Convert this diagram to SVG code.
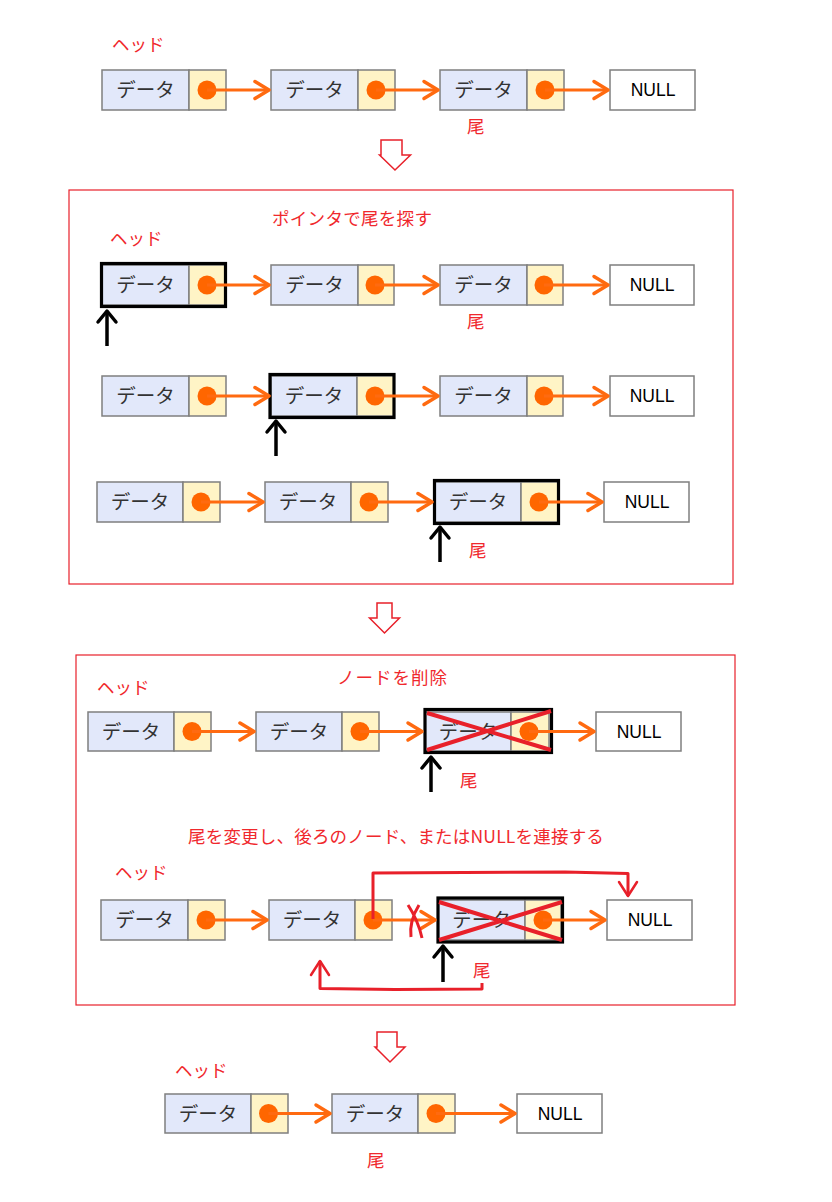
<svg xmlns="http://www.w3.org/2000/svg" width="832" height="1202" viewBox="0 0 832 1202">
<style>
.data{fill:#E2E8FA;stroke:#7F7F7F;stroke-width:1.5}
.ptr{fill:#FFF4C6;stroke:#7F7F7F;stroke-width:1.5}
.nul{fill:#FFFFFF;stroke:#7F7F7F;stroke-width:1.5}
.dot{fill:#FF6600}
.dtxt{font-family:"Noto Sans CJK JP","Noto Sans",sans-serif;font-size:19.5px;fill:#333333;text-anchor:middle}
.ntxt{font-family:"Liberation Sans",Arial,sans-serif;font-size:17.5px;fill:#000000;text-anchor:middle}
.rtxt{font-family:"Noto Sans CJK JP","Noto Sans",sans-serif;font-size:17.5px;fill:#F0282D}
.hl{fill:none;stroke:#000000;stroke-width:3.2}
.cross{stroke:#E8202A;stroke-width:4;fill:none}
.link{stroke:#FF6A10;stroke-width:3;fill:none;marker-end:url(#ao)}
.up{stroke:#000000;stroke-width:3.5;fill:none;marker-end:url(#ab)}
.red{stroke:#E8202A;stroke-width:3;fill:none;stroke-linejoin:round}
.sec{fill:none;stroke:#E8202A;stroke-width:1.2}
.down{fill:#FFFFFF;stroke:#E8202A;stroke-width:1.5}
</style>
<defs>
<marker id="ao" markerUnits="userSpaceOnUse" viewBox="-18 -12 22 24" markerWidth="22" markerHeight="24" refX="0" refY="0" orient="auto" overflow="visible">
<path d="M-14,-8.5 L0,0 L-14,8.5" fill="none" stroke="#FF6A10" stroke-width="3.5" stroke-linecap="round" stroke-linejoin="round"/>
</marker>
<marker id="ab" markerUnits="userSpaceOnUse" viewBox="-16 -12 20 24" markerWidth="20" markerHeight="24" refX="0" refY="0" orient="auto" overflow="visible">
<path d="M-11,-9 L0,0 L-11,9" fill="none" stroke="#000000" stroke-width="3.5" stroke-linecap="round" stroke-linejoin="round"/>
</marker>
<marker id="ar" markerUnits="userSpaceOnUse" viewBox="-18 -12 22 24" markerWidth="22" markerHeight="24" refX="0" refY="0" orient="auto" overflow="visible">
<path d="M-14,-9 L0,0 L-14,9" fill="none" stroke="#E8202A" stroke-width="2.5" stroke-linecap="round" stroke-linejoin="round"/>
</marker>
</defs>
<rect width="832" height="1202" fill="#FFFFFF"/>

<!-- Section frames and flow arrows -->
<g id="frames">
<rect class="sec" x="69" y="190" width="664" height="394"/>
<rect class="sec" x="76" y="655" width="659" height="350"/>
<polygon class="down" points="381,140 402,140 402,155 410.5,155 395,170 379.5,155 381,155"/>
<polygon class="down" points="377,603 392,603 392,618 399.5,618 384.5,633 369.5,618 377,618"/>
<polygon class="down" points="377,1032 397,1032 397,1047 405,1047 390,1062 375,1047 377,1047"/>
</g>

<!-- Labels -->
<g id="labels">
<text class="rtxt" x="112" y="51">ヘッド</text>
<text class="rtxt" x="467" y="133">尾</text>
<text class="rtxt" x="272" y="225" letter-spacing="0.3">ポインタで尾を探す</text>
<text class="rtxt" x="110" y="245">ヘッド</text>
<text class="rtxt" x="467" y="328">尾</text>
<text class="rtxt" x="469" y="557">尾</text>
<text class="rtxt" x="337" y="684" letter-spacing="1">ノードを削除</text>
<text class="rtxt" x="97" y="694">ヘッド</text>
<text class="rtxt" x="460" y="787">尾</text>
<text class="rtxt" x="188" y="843" letter-spacing="0.2">尾を変更し、後ろのノード、またはNULLを連接する</text>
<text class="rtxt" x="115" y="879">ヘッド</text>
<text class="rtxt" x="473" y="977">尾</text>
<text class="rtxt" x="175" y="1077">ヘッド</text>
<text class="rtxt" x="367" y="1167">尾</text>
</g>

<!-- Row 1 -->
<g id="r1n1"><rect class="data" x="102" y="70" width="87" height="40"/><rect class="ptr" x="189" y="70" width="37" height="40"/><circle class="dot" cx="207" cy="90" r="9.5"/><text class="dtxt" x="145.5" y="97">データ</text></g>
<g id="r1n2"><rect class="data" x="271" y="70" width="87" height="40"/><rect class="ptr" x="358" y="70" width="37" height="40"/><circle class="dot" cx="376" cy="90" r="9.5"/><text class="dtxt" x="314.5" y="97">データ</text></g>
<g id="r1n3"><rect class="data" x="440" y="70" width="87" height="40"/><rect class="ptr" x="527" y="70" width="37" height="40"/><circle class="dot" cx="545" cy="90" r="9.5"/><text class="dtxt" x="483.5" y="97">データ</text></g>
<g id="r1null"><rect class="nul" x="610" y="70" width="85" height="40"/><text class="ntxt" x="653" y="96">NULL</text></g>

<!-- Row 2a -->
<g id="r2an1"><rect class="data" x="102" y="265" width="87" height="40"/><rect class="ptr" x="189" y="265" width="37" height="40"/><circle class="dot" cx="207" cy="285" r="9.5"/><text class="dtxt" x="145.5" y="292">データ</text><rect class="hl" x="101.5" y="263.5" width="124" height="43"/></g>
<g id="r2an2"><rect class="data" x="271" y="265" width="87" height="40"/><rect class="ptr" x="358" y="265" width="36" height="40"/><circle class="dot" cx="375" cy="285" r="9.5"/><text class="dtxt" x="314.5" y="292">データ</text></g>
<g id="r2an3"><rect class="data" x="440" y="265" width="87" height="40"/><rect class="ptr" x="527" y="265" width="36" height="40"/><circle class="dot" cx="544" cy="285" r="9.5"/><text class="dtxt" x="483.5" y="292">データ</text></g>
<g id="r2anull"><rect class="nul" x="610" y="265" width="84" height="40"/><text class="ntxt" x="652" y="291">NULL</text></g>

<!-- Row 2b -->
<g id="r2bn1"><rect class="data" x="102" y="376" width="87" height="40"/><rect class="ptr" x="189" y="376" width="37" height="40"/><circle class="dot" cx="207" cy="396" r="9.5"/><text class="dtxt" x="145.5" y="403">データ</text></g>
<g id="r2bn2"><rect class="data" x="271" y="376" width="86" height="40"/><rect class="ptr" x="357" y="376" width="37" height="40"/><circle class="dot" cx="375" cy="396" r="9.5"/><text class="dtxt" x="314" y="403">データ</text><rect class="hl" x="270" y="374.5" width="124" height="43"/></g>
<g id="r2bn3"><rect class="data" x="440" y="376" width="87" height="40"/><rect class="ptr" x="527" y="376" width="36" height="40"/><circle class="dot" cx="544" cy="396" r="9.5"/><text class="dtxt" x="483.5" y="403">データ</text></g>
<g id="r2bnull"><rect class="nul" x="610" y="376" width="84" height="40"/><text class="ntxt" x="652" y="402">NULL</text></g>

<!-- Row 2c -->
<g id="r2cn1"><rect class="data" x="97" y="482" width="86" height="40"/><rect class="ptr" x="183" y="482" width="37" height="40"/><circle class="dot" cx="201" cy="502" r="9.5"/><text class="dtxt" x="140" y="509">データ</text></g>
<g id="r2cn2"><rect class="data" x="265" y="482" width="86" height="40"/><rect class="ptr" x="351" y="482" width="37" height="40"/><circle class="dot" cx="369" cy="502" r="9.5"/><text class="dtxt" x="308" y="509">データ</text></g>
<g id="r2cn3"><rect class="data" x="435" y="482" width="86" height="40"/><rect class="ptr" x="521" y="482" width="37" height="40"/><circle class="dot" cx="539" cy="502" r="9.5"/><text class="dtxt" x="478" y="509">データ</text><rect class="hl" x="434.5" y="480.5" width="124" height="43"/></g>
<g id="r2cnull"><rect class="nul" x="604" y="482" width="85" height="40"/><text class="ntxt" x="647" y="508">NULL</text></g>

<!-- Row 3a -->
<g id="r3an1"><rect class="data" x="88" y="712" width="86" height="39"/><rect class="ptr" x="174" y="712" width="37" height="39"/><circle class="dot" cx="192" cy="731.5" r="9.5"/><text class="dtxt" x="131" y="738.5">データ</text></g>
<g id="r3an2"><rect class="data" x="256" y="712" width="86" height="39"/><rect class="ptr" x="342" y="712" width="37" height="39"/><circle class="dot" cx="360" cy="731.5" r="9.5"/><text class="dtxt" x="299" y="738.5">データ</text></g>
<g id="r3an3"><rect class="data" x="425" y="712" width="86" height="39"/><rect class="ptr" x="511" y="712" width="38" height="39"/><circle class="dot" cx="529" cy="731.5" r="9.5"/><text class="dtxt" x="468" y="738.5">データ</text><rect class="hl" x="425" y="709.5" width="126.5" height="43"/><path class="cross" d="M427,713 L551,750 M427,750 L551,711"/></g>
<g id="r3anull"><rect class="nul" x="596" y="712" width="85" height="39"/><text class="ntxt" x="639" y="738">NULL</text></g>

<!-- Row 3b -->
<g id="r3bn1"><rect class="data" x="101" y="900" width="87" height="40"/><rect class="ptr" x="188" y="900" width="37" height="40"/><circle class="dot" cx="206" cy="920" r="9.5"/><text class="dtxt" x="144.5" y="927">データ</text></g>
<g id="r3bn2"><rect class="data" x="269" y="900" width="86" height="40"/><rect class="ptr" x="355" y="900" width="37" height="40"/><circle class="dot" cx="373" cy="920" r="9.5"/><text class="dtxt" x="312" y="927">データ</text></g>
<g id="r3bn3"><rect class="data" x="438" y="900" width="87" height="40"/><rect class="ptr" x="525" y="900" width="36" height="40"/><circle class="dot" cx="543" cy="920" r="9.5"/><text class="dtxt" x="481.5" y="927">データ</text><rect class="hl" x="438" y="898" width="124.5" height="44"/><path class="cross" d="M439,902 L562,940 M439,940 L562,902"/></g>
<g id="r3bnull"><rect class="nul" x="607" y="900" width="85" height="40"/><text class="ntxt" x="650" y="926">NULL</text></g>

<!-- Final row -->
<g id="r4n1"><rect class="data" x="165" y="1094" width="86" height="39"/><rect class="ptr" x="251" y="1094" width="37" height="39"/><circle class="dot" cx="268.5" cy="1113.5" r="9.5"/><text class="dtxt" x="208" y="1120.5">データ</text></g>
<g id="r4n2"><rect class="data" x="332" y="1094" width="86" height="39"/><rect class="ptr" x="418" y="1094" width="37" height="39"/><circle class="dot" cx="436" cy="1113.5" r="9.5"/><text class="dtxt" x="375" y="1120.5">データ</text></g>
<g id="r4null"><rect class="nul" x="517" y="1094" width="85" height="39"/><text class="ntxt" x="560" y="1120">NULL</text></g>

<!-- Connectors -->
<g id="connectors">
<path class="link" d="M207,90 H269"/>
<path class="link" d="M376,90 H438"/>
<path class="link" d="M545,90 H608"/>

<path class="link" d="M207,285 H269"/>
<path class="link" d="M375,285 H438"/>
<path class="link" d="M544,285 H608"/>

<path class="link" d="M207,396 H269"/>
<path class="link" d="M375,396 H438"/>
<path class="link" d="M544,396 H608"/>

<path class="link" d="M201,502 H263"/>
<path class="link" d="M369,502 H432"/>
<path class="link" d="M539,502 H602"/>

<path class="link" d="M192,731.5 H254"/>
<path class="link" d="M360,731.5 H422"/>
<path class="link" d="M529,731.5 H594"/>

<path class="link" d="M206,920 H267"/>
<path class="link" d="M373,920 H435"/>
<path class="link" d="M543,920 H605"/>

<path class="link" d="M268.5,1113.5 H330"/>
<path class="link" d="M436,1113.5 H515"/>

<path class="up" d="M107,346 V311"/>
<path class="up" d="M276,456 V421"/>
<path class="up" d="M440,562 V527"/>
<path class="up" d="M431,792 V757"/>
<path class="up" d="M443,982 V946"/>

<path class="red" d="M373,919 V873 L565,872 L628,873.5 V896" marker-end="url(#ar)"/>
<path class="red" d="M482,983 V989 L395,989.5 L320,988.5 V961" marker-end="url(#ar)"/>
<path class="red" stroke-width="2.5" d="M408,905 Q418,920 422,938 M419,905 Q409,921 411,937"/>
</g>
</svg>
